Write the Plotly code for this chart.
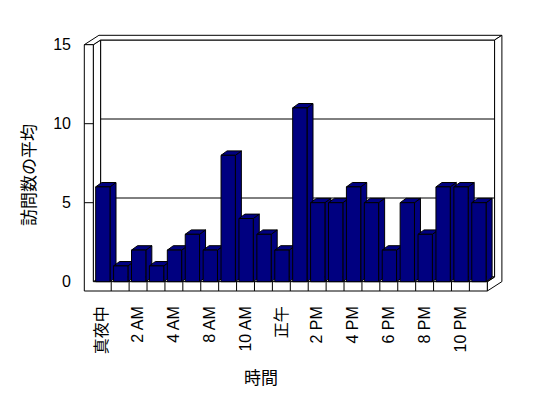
import plotly.graph_objects as go

# ---------------- data ----------------
categories = ["真夜中", "1 AM", "2 AM", "3 AM", "4 AM", "5 AM", "8 AM", "9 AM",
              "10 AM", "11 AM", "正午", "1 PM", "2 PM", "3 PM", "4 PM", "5 PM",
              "6 PM", "7 PM", "8 PM", "9 PM", "10 PM", "11 PM"]
visits = [6, 1, 2, 1, 2, 3, 2, 8, 4, 3, 2, 11, 5, 5, 6, 5, 2, 5, 3, 6, 6, 5]
y_ticks = [0, 5, 10, 15]
x_title = "時間"
y_title = "訪問数の平均"

# ---------------- geometry (pixels, page coordinates) ----------------
W, H = 548, 398
PAGE_OFF = 8           # default body margin of the html page
PX_CAT = 17.909        # pixels per category
PX_Y = 15.8            # pixels per value unit
FRONT_X0 = 93.3 - PAGE_OFF   # pixel of category edge -0.5
FRONT_Y0 = 281.7 - PAGE_OFF  # pixel of value 0
ML, MT = 74, 25
PW, PH = 422, 260
MR, MB = W - ML - PW, H - MT - PH

n = len(categories)
x0 = -0.5 - (FRONT_X0 - ML) / PX_CAT
x1 = x0 + PW / PX_CAT
y0 = -((MT + PH) - FRONT_Y0) / PX_Y
y1 = y0 + PH / PX_Y

DX = 7.3 / PX_CAT      # depth offset
DY = 4.7 / PX_Y
WALL_X = 9.0 / PX_CAT  # left wall thickness
WALL_Y = 9.3 / PX_Y    # floor thickness
BDX, BDY = 6.0 / PX_CAT, 4.4 / PX_Y
BW = 0.8
BOFF = 0.033
NAVY = "#000080"

L, R = -0.5, n - 0.5
ymax = y_ticks[-1]


def path(pts):
    return "M " + " L ".join(f"{x:.4f},{y:.4f}" for x, y in pts) + " Z"


shapes = []
line = dict(color="black", width=1)


def add(pts, fill="white"):
    shapes.append(dict(type="path", path=path(pts), xref="x", yref="y",
                       fillcolor=fill, line=line, layer="below"))


def seg(xa, ya, xb, yb):
    shapes.append(dict(type="line", x0=xa, y0=ya, x1=xb, y1=yb, xref="x",
                       yref="y", line=line, layer="below"))


# back wall front face
add([(L + DX, DY), (R + DX, DY), (R + DX, ymax + DY), (L + DX, ymax + DY)])
# floor top
add([(L, 0), (R, 0), (R + DX, DY), (L + DX, DY)])
# left wall inner face
add([(L, 0), (L + DX, DY), (L + DX, ymax + DY), (L, ymax)])
# top faces (left wall + back wall)
add([(L - WALL_X, ymax), (L, ymax), (L + DX, ymax + DY), (R + DX, ymax + DY),
     (R + 2 * DX, ymax + 2 * DY), (L - WALL_X + 2 * DX, ymax + 2 * DY)])
# right faces (floor + back wall)
add([(R, -WALL_Y), (R, 0), (R + DX, DY), (R + DX, ymax + DY),
     (R + 2 * DX, ymax + 2 * DY), (R + 2 * DX, -WALL_Y + 2 * DY)])
seg(R, 0, R + DX, DY)
# front L face (left wall + floor)
add([(L - WALL_X, -WALL_Y), (R, -WALL_Y), (R, 0), (L, 0), (L, ymax),
     (L - WALL_X, ymax)])
# category dividers on floor front
for k in range(1, n):
    seg(k - 0.5, -WALL_Y, k - 0.5, 0)
# back wall gridlines and front ticks
for t in y_ticks[1:-1]:
    seg(L + DX, t + DY, R + DX, t + DY)
    seg(L - WALL_X, t, L, t)

# bar side and top faces (drawn in order so later bars overlap earlier ones)
for i, v in enumerate(visits):
    c = i + BOFF
    xl, xr = c - BW / 2, c + BW / 2
    add([(xr, 0), (xr, v), (xr + BDX, v + BDY), (xr + BDX, BDY)], NAVY)
    add([(xl, v), (xr, v), (xr + BDX, v + BDY), (xl + BDX, v + BDY)], NAVY)

fig = go.Figure()
fig.add_trace(go.Bar(
    x=[i + BOFF for i in range(n)], y=visits, width=BW,
    marker=dict(color=NAVY, line=dict(color="black", width=1)),
    hovertext=categories, showlegend=False,
))

font = dict(family="Liberation Sans, Noto Sans CJK JP, sans-serif", size=16,
            color="black")


def px_to_paper(px, py):
    px -= PAGE_OFF
    py -= PAGE_OFF
    return (px - ML) / PW, ((H - py) - MB) / PH


tx, ty = px_to_paper(261, 378)
yx, yy = px_to_paper(29, 175)

fig.update_layout(
    width=W, height=H,
    margin=dict(l=ML, r=MR, t=MT, b=MB, pad=0, autoexpand=False),
    paper_bgcolor="white", plot_bgcolor="white",
    font=font,
    shapes=shapes,
    showlegend=False,
    xaxis=dict(range=[x0, x1], showgrid=False, zeroline=False, showline=False,
               automargin=False, fixedrange=True,
               tickmode="array", tickvals=list(range(0, n, 2)),
               ticktext=categories[0::2], tickangle=-90, ticks="",
               ticklabelstandoff=9, tickfont=font),
    yaxis=dict(range=[y0, y1], showgrid=False, zeroline=False, showline=False,
               automargin=False, fixedrange=True,
               tickmode="array", tickvals=y_ticks,
               ticktext=[str(t) for t in y_ticks], ticks="",
               ticklabelstandoff=10, tickfont=font),
    annotations=[
        dict(text=x_title, x=tx, y=ty, xref="paper", yref="paper",
             xanchor="center", yanchor="middle",
             showarrow=False, font=dict(font, size=17)),
        dict(text=y_title, x=yx, y=yy, xref="paper", yref="paper",
             xanchor="center", yanchor="middle",
             showarrow=False, textangle=-90, font=dict(font, size=17)),
    ],
)

fig.write_html("out.html")
